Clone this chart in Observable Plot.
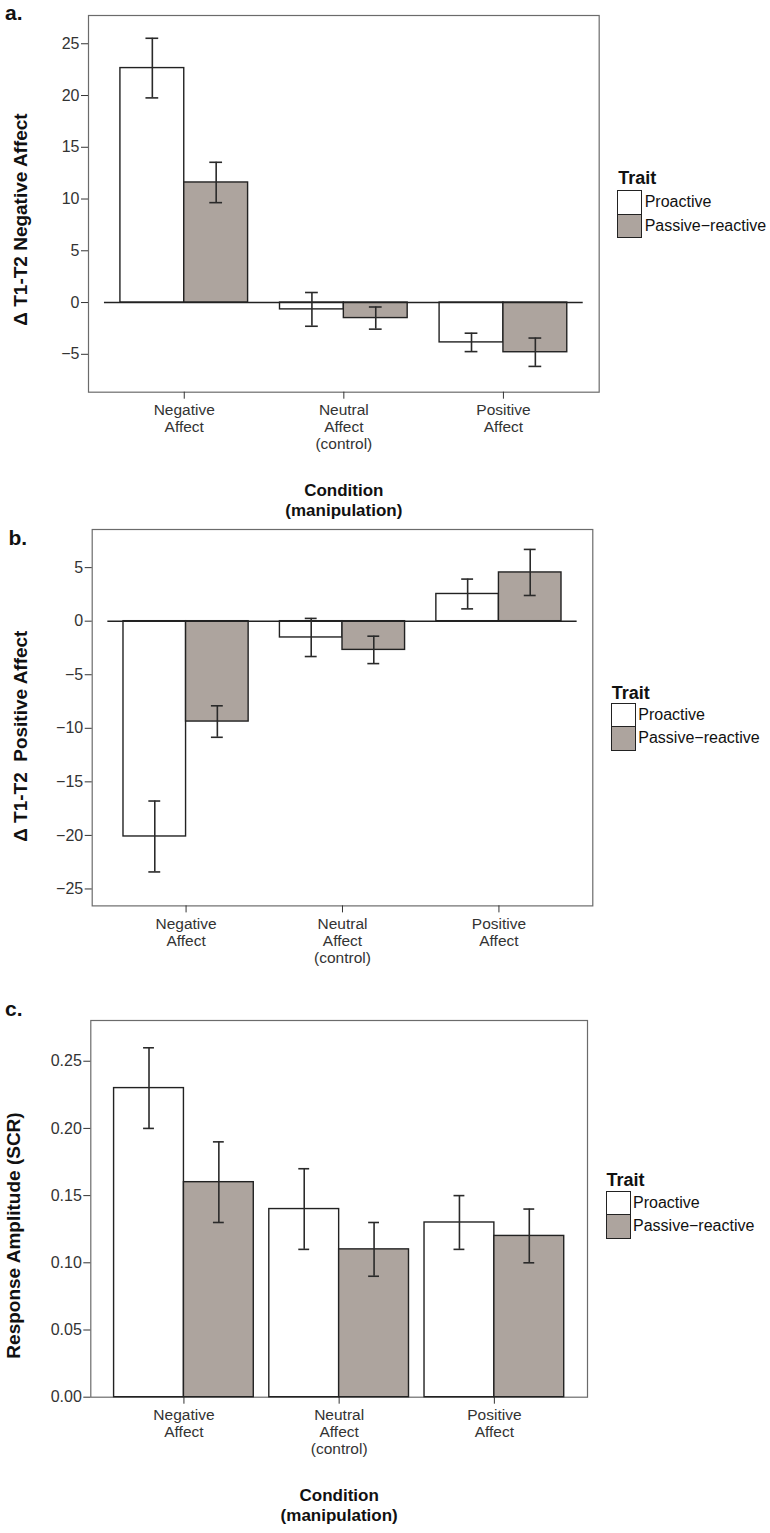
<!DOCTYPE html>
<html><head><meta charset="utf-8">
<script src="https://cdn.jsdelivr.net/npm/d3@7"></script>
<script src="https://cdn.jsdelivr.net/npm/@observablehq/plot@0.6"></script>
<style>
body{margin:0;background:#fff;font-family:"Liberation Sans",Arial,Helvetica,sans-serif;}
#root{position:relative;width:770px;height:1533px;overflow:hidden;background:#fff;}
.abs{position:absolute;white-space:nowrap;}
.letter{font-weight:bold;font-size:21px;line-height:24px;color:#111;}
.ltitle{font-weight:bold;font-size:18px;line-height:21px;color:#111;}
.swbox{position:absolute;width:25px;box-sizing:border-box;border:1.4px solid #222;}
.sw{width:100%;box-sizing:border-box;}
.lab{position:absolute;font-size:16px;line-height:24px;height:24px;color:#111;white-space:nowrap;}
</style></head><body><div id="root"></div>
<script>
// ---- shared categories ----
const conditionLabels = ["Negative\nAffect", "Neutral\nAffect\n(control)", "Positive\nAffect"];
const conditionIndex = [1, 2, 3];
const traits = ["Proactive", "Passive\u2212reactive"];
const traitColors = ["#ffffff", "#ada49e"];

// ---- panel a: Δ T1-T2 Negative Affect ----
const aProactiveMean = [22.65, -0.66, -3.85];
const aProactiveErr  = [2.88, 1.63, 0.89];
const aPassiveMean   = [11.6, -1.5, -4.8];
const aPassiveErr    = [1.95, 1.07, 1.37];
const aTicks = [-5, 0, 5, 10, 15, 20, 25];

// ---- panel b: Δ T1-T2 Positive Affect ----
const bProactiveMean = [-20.1, -1.52, 2.54];
const bProactiveErr  = [3.31, 1.78, 1.39];
const bPassiveMean   = [-9.37, -2.68, 4.55];
const bPassiveErr    = [1.47, 1.28, 2.15];
const bTicks = [-25, -20, -15, -10, -5, 0, 5];

// ---- panel c: Response Amplitude (SCR) ----
const cProactiveMean = [0.23, 0.14, 0.13];
const cProactiveErr  = [0.03, 0.03, 0.02];
const cPassiveMean   = [0.16, 0.11, 0.12];
const cPassiveErr    = [0.03, 0.02, 0.02];
const cTicks = [0, 0.05, 0.10, 0.15, 0.20, 0.25];

const root = document.getElementById("root");
const FONT = "Liberation Sans, Arial, Helvetica, sans-serif";

function makeRows(proMean, proErr, pasMean, pasErr, barW) {
  const rows = [];
  conditionIndex.forEach((c, i) => {
    rows.push({trait: traits[0], x1: c - barW, x2: c, mean: proMean[i], err: proErr[i]});
    rows.push({trait: traits[1], x1: c, x2: c + barW, mean: pasMean[i], err: pasErr[i]});
  });
  return rows;
}

// baseline of a div with given font-size and line-height (Liberation Sans metrics)
function topFor(baseline, fs, lh) {
  return baseline - ((lh - 1.117 * fs) / 2 + 0.905 * fs);
}

function panel(o) {
  const top = o.frameTop - 15;
  const innerH = o.frameBottom - o.frameTop;
  const height = o.bottom - top;
  const width = o.frameRight + 12;
  const rows = makeRows(o.pm, o.pe, o.sm, o.se, o.barW);
  const cx = d => (d.x1 + d.x2) / 2;
  const marks = [
    Plot.frame({stroke: "#6b6b6b", strokeWidth: 1.2}),
    Plot.rectY(rows, {x1: "x1", x2: "x2", y1: 0, y2: "mean", fill: "trait", stroke: "#222", strokeWidth: 1.4}),
  ];
  if (o.zeroLine) marks.push(Plot.ruleY([0], {x1: 0.5, x2: conditionIndex.length + 0.5, stroke: "#222", strokeWidth: 1.4}));
  marks.push(
    Plot.ruleX(rows, {x: cx, y1: d => d.mean - d.err, y2: d => d.mean + d.err, stroke: "#2a2a2a", strokeWidth: 1.6}),
    Plot.ruleY(rows, {x1: d => cx(d) - o.capW, x2: d => cx(d) + o.capW, y: d => d.mean + d.err, stroke: "#2a2a2a", strokeWidth: 1.6}),
    Plot.ruleY(rows, {x1: d => cx(d) - o.capW, x2: d => cx(d) + o.capW, y: d => d.mean - d.err, stroke: "#2a2a2a", strokeWidth: 1.6}),
    Plot.axisY(o.ticks, {tickSize: 7, tickPadding: 2, fontSize: 16, tickFormat: o.tickFormat, label: null}),
    Plot.axisX(conditionIndex, {tickSize: 7, tickFormat: () => "", label: null}),
    Plot.text(conditionLabels, {x: (d, i) => conditionIndex[i], text: d => d, frameAnchor: "bottom", dy: 10.6,
      lineAnchor: "top", lineHeight: 1.1, fontSize: 15.5, fill: "#333"}),
    Plot.text([o.yLabel], {frameAnchor: "left", dx: o.yLabelX - o.frameLeft, dy: o.yLabelY - (o.frameTop + o.frameBottom) / 2,
      rotate: -90, textAnchor: "middle", lineAnchor: "middle", fontSize: 19, fontWeight: "bold", fill: "#111"})
  );
  if (o.xTitle) marks.push(Plot.text([o.xTitle], {frameAnchor: "bottom", dy: 89, lineAnchor: "top", lineHeight: 1.2,
      fontSize: 17, fontWeight: "bold", fill: "#111"}));
  const svg = Plot.plot({
    width, height,
    marginTop: 15, marginLeft: o.frameLeft, marginRight: width - o.frameRight,
    marginBottom: height - 15 - innerH,
    x: {type: "linear", domain: [0.4, 3.6]},
    y: {domain: o.yDomain},
    color: {domain: traits, range: traitColors},
    style: {fontFamily: FONT, fontSize: "16px", color: "#333", background: "transparent", overflow: "visible"},
    marks
  });
  svg.style.position = "absolute";
  svg.style.left = "0px";
  svg.style.top = top + "px";
  svg.style.maxWidth = "none";
  root.appendChild(svg);

  // panel letter
  const L = document.createElement("div");
  L.className = "abs letter";
  L.textContent = o.letter;
  L.style.left = o.letterX + "px";
  L.style.top = topFor(o.letterBaseline, 21, 24) + "px";
  root.appendChild(L);

  // legend
  const swLeft = o.frameRight + 18.5;
  const T = document.createElement("div");
  T.className = "abs ltitle";
  T.textContent = "Trait";
  T.style.left = (swLeft + 1) + "px";
  T.style.top = topFor(o.traitBaseline, 18, 21) + "px";
  root.appendChild(T);
  const box = document.createElement("div");
  box.className = "swbox";
  box.style.left = swLeft + "px";
  box.style.top = o.swTop + "px";
  traits.forEach((t, i) => {
    const s = document.createElement("div");
    s.className = "sw";
    s.style.height = (i === 0 ? 22.5 : 23.5) + "px";
    s.style.background = traitColors[i];
    if (i === 1) s.style.borderTop = "1.4px solid #222";
    box.appendChild(s);
    const lab = document.createElement("div");
    lab.className = "lab";
    lab.textContent = t;
    lab.style.left = (swLeft + 27.5) + "px";
    lab.style.top = (o.swTop + i * 23.5) + "px";
    root.appendChild(lab);
  });
  root.appendChild(box);
}

panel({
  letter: "a.", letterX: 5, letterBaseline: 20.5,
  frameTop: 15, frameBottom: 391.7, frameLeft: 88, frameRight: 598.7, bottom: 532,
  yDomain: [-8.66, 27.73], ticks: aTicks, tickFormat: d3.format("d"),
  pm: aProactiveMean, pe: aProactiveErr, sm: aPassiveMean, se: aPassiveErr,
  barW: 0.4, capW: 0.04, zeroLine: true,
  yLabel: "\u0394 T1-T2 Negative Affect", yLabelX: 20.3, yLabelY: 219,
  xTitle: "Condition\n(manipulation)",
  traitBaseline: 185, swTop: 190
});

panel({
  letter: "b.", letterX: 8.5, letterBaseline: 545,
  frameTop: 529.3, frameBottom: 905.7, frameLeft: 91.7, frameRight: 592.3, bottom: 975,
  yDomain: [-26.58, 8.56], ticks: bTicks, tickFormat: d3.format("d"),
  pm: bProactiveMean, pe: bProactiveErr, sm: bPassiveMean, se: bPassiveErr,
  barW: 0.4, capW: 0.038, zeroLine: true,
  yLabel: "\u0394 T1-T2  Positive Affect", yLabelX: 20.3, yLabelY: 736,
  xTitle: null,
  traitBaseline: 700, swTop: 702.7
});

panel({
  letter: "c.", letterX: 5, letterBaseline: 1016,
  frameTop: 1020, frameBottom: 1396.7, frameLeft: 90.3, frameRight: 587, bottom: 1533,
  yDomain: [0, 0.2803], ticks: cTicks, tickFormat: d3.format(".2f"),
  pm: cProactiveMean, pe: cProactiveErr, sm: cPassiveMean, se: cPassiveErr,
  barW: 0.45, capW: 0.035, zeroLine: false,
  yLabel: "Response Amplitude (SCR)", yLabelX: 13.5, yLabelY: 1235,
  xTitle: "Condition\n(manipulation)",
  traitBaseline: 1187, swTop: 1190.7
});
</script></body></html>
